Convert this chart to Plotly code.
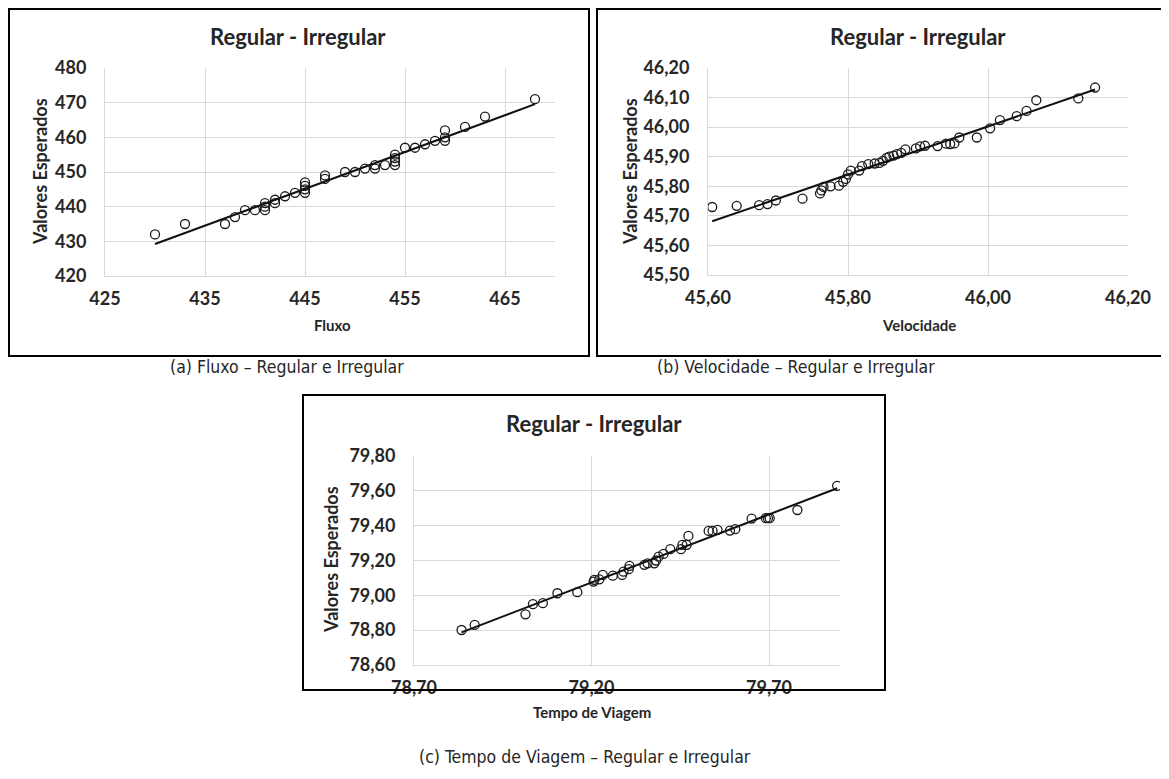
import numpy as np
import plotly.graph_objects as go

# ---------------- data ----------------
flux_x = [430, 433, 437, 438, 439, 440, 441, 441, 441, 442, 442, 443, 444,
          445, 445, 445, 445, 447, 447, 449, 450, 451, 452, 452, 453,
          454, 454, 454, 454, 455, 456, 457, 458, 459, 459, 459, 461, 463, 468]
flux_y = [432, 435, 435, 437, 439, 439, 439, 440, 441, 441, 442, 443, 444,
          444, 445, 446, 447, 448, 449, 450, 450, 451, 451, 452, 452,
          452, 453, 454, 455, 457, 457, 458, 459, 459, 460, 462, 463, 466, 471]

vel_x = [45.606, 45.641, 45.673, 45.685, 45.697, 45.735, 45.760, 45.762, 45.765,
         45.775, 45.787, 45.793, 45.797, 45.800, 45.804, 45.816, 45.820, 45.829,
         45.838, 45.845, 45.850, 45.855, 45.859, 45.865, 45.870, 45.876, 45.882,
         45.897, 45.903, 45.910, 45.928, 45.940, 45.946, 45.952, 45.959, 45.984,
         46.003, 46.017, 46.041, 46.055, 46.069, 46.129, 46.153]
vel_y = [45.730, 45.734, 45.736, 45.740, 45.752, 45.758, 45.776, 45.786, 45.798,
         45.800, 45.802, 45.815, 45.825, 45.840, 45.853, 45.853, 45.868, 45.875,
         45.877, 45.879, 45.886, 45.896, 45.900, 45.904, 45.909, 45.913, 45.925,
         45.928, 45.935, 45.937, 45.936, 45.944, 45.943, 45.945, 45.965, 45.965,
         45.996, 46.024, 46.037, 46.055, 46.091, 46.097, 46.134]

tempo_x = [78.834, 78.871, 79.014, 79.035, 79.063, 79.104, 79.160, 79.206, 79.208,
           79.222, 79.232, 79.260, 79.286, 79.290, 79.305, 79.307, 79.349, 79.358,
           79.377, 79.382, 79.389, 79.403, 79.422, 79.452, 79.456, 79.468, 79.473,
           79.530, 79.541, 79.555, 79.590, 79.605, 79.651, 79.691, 79.697, 79.702,
           79.780, 79.892]
tempo_y = [78.801, 78.830, 78.891, 78.949, 78.955, 79.012, 79.018, 79.079, 79.089,
           79.092, 79.117, 79.113, 79.117, 79.136, 79.150, 79.169, 79.175, 79.184,
           79.184, 79.200, 79.222, 79.238, 79.265, 79.265, 79.290, 79.290, 79.341,
           79.370, 79.370, 79.376, 79.372, 79.380, 79.441, 79.443, 79.443, 79.443,
           79.490, 79.629]

panel_title = "Regular - Irregular"
y_title = "Valores Esperados"
x_titles = ["Fluxo", "Velocidade", "Tempo de Viagem"]
captions = ["(a) Fluxo – Regular e Irregular",
            "(b) Velocidade – Regular e Irregular",
            "(c) Tempo de Viagem – Regular e Irregular"]

# ---------------- layout helpers ----------------
W, H = 1169, 779
OFF = 8   # the page places the figure 8 px from the top-left corner
def px(x):
    return (x - OFF) / W
def py(y):
    return 1 - (y - OFF) / H

TXT = "#262626"
GRID = "#d9d9d9"
FONT = "Lato"

fig = go.Figure()

panels = [
    dict(x=flux_x, y=flux_y, xa="x", ya="y"),
    dict(x=vel_x, y=vel_y, xa="x2", ya="y2"),
    dict(x=tempo_x, y=tempo_y, xa="x3", ya="y3"),
]
for p in panels:
    xs = np.array(p["x"], dtype=float)
    ys = np.array(p["y"], dtype=float)
    fig.add_trace(go.Scatter(
        x=xs, y=ys, mode="markers", xaxis=p["xa"], yaxis=p["ya"],
        marker=dict(symbol="circle-open", size=9, color="#1a1a1a",
                    line=dict(width=1.3, color="#1a1a1a")),
        showlegend=False, hoverinfo="skip"))
    m, b = np.polyfit(xs, ys, 1)
    lx = np.array([xs.min(), xs.max()])
    fig.add_trace(go.Scatter(
        x=lx, y=m * lx + b, mode="lines", xaxis=p["xa"], yaxis=p["ya"],
        line=dict(color="#111111", width=2), showlegend=False, hoverinfo="skip"))

tickfont = dict(family=FONT, size=18, color=TXT, weight="bold")

def ax(domain, rng, dtick, tick0, fmt, anchor, standoff):
    return dict(domain=domain, range=rng, dtick=dtick, tick0=tick0,
                tickformat=fmt, anchor=anchor, showgrid=True, gridcolor=GRID,
                gridwidth=1, zeroline=False, showline=True, linecolor=GRID,
                linewidth=1, ticks="", tickfont=tickfont, automargin=False,
                ticklabelstandoff=standoff, fixedrange=True)

# plot areas (pixels in the reference)
A = (105, 555, 68, 276)
B = (708, 1128, 68, 275)
C = (414, 840, 456, 665)

fig.update_layout(
    width=W, height=H,
    margin=dict(l=0, r=0, t=0, b=0, pad=0, autoexpand=False),
    paper_bgcolor="white", plot_bgcolor="white",
    separators=",.",
    xaxis=ax([px(A[0]), px(A[1])], [425, 470], 10, 425, "d", "y", 6),
    yaxis=ax([py(A[3]), py(A[2])], [420, 480], 10, 420, "d", "x", 14),
    xaxis2=ax([px(B[0]), px(B[1])], [45.6, 46.2], 0.2, 45.6, ".2f", "y2", 6),
    yaxis2=ax([py(B[3]), py(B[2])], [45.5, 46.2], 0.1, 45.5, ".2f", "x2", 14),
    xaxis3=ax([px(C[0]), px(C[1])], [78.7, 79.9], 0.5, 78.7, ".2f", "y3", 6),
    yaxis3=ax([py(C[3]), py(C[2])], [78.6, 79.8], 0.2, 78.6, ".2f", "x3", 14),
)

# outer black frames
frames = [(9, 589, 9, 356), (597, 1240, 9, 356), (303, 885, 395, 690)]
for x0, x1, y0, y1 in frames:
    fig.add_shape(type="rect", xref="paper", yref="paper",
                  x0=px(x0), x1=px(x1), y0=py(y1), y1=py(y0),
                  line=dict(color="black", width=2), fillcolor="rgba(0,0,0,0)")

def note(text, x, y, size, weight="bold", family=FONT, angle=0):
    fig.add_annotation(text=text, xref="paper", yref="paper", x=px(x), y=py(y),
                       xanchor="center", yanchor="middle", showarrow=False,
                       textangle=angle,
                       font=dict(family=family, size=size, color=TXT, weight=weight))

# chart titles (centred on the frames)
note(panel_title, 298, 36, 22)
note(panel_title, 918, 36, 22)
note(panel_title, 594, 423, 22)

# axis titles
note(x_titles[0], 332, 325, 15)
note(x_titles[1], 919, 325, 15)
note(x_titles[2], 592, 712, 15)
note(y_title, 40, 172, 18, angle=-90)
note(y_title, 630, 172, 18, angle=-90)
note(y_title, 331, 560, 18, angle=-90)

# captions
CAP_FONT = "DejaVu Sans Condensed, DejaVu Sans, sans-serif"
note(captions[0], 287, 367, 17.5, weight="normal", family=CAP_FONT)
note(captions[1], 796, 367, 17.5, weight="normal", family=CAP_FONT)
note(captions[2], 585, 757, 17.5, weight="normal", family=CAP_FONT)

fig.write_html("out.html")
